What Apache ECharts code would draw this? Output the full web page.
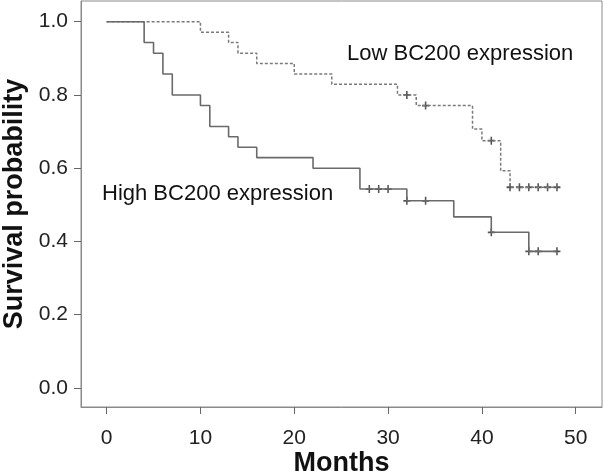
<!DOCTYPE html>
<html>
<head>
<meta charset="utf-8">
<script src="https://cdn.jsdelivr.net/npm/echarts@6/dist/echarts.min.js"></script>
<style>
html,body{margin:0;padding:0;background:#fff;}
#chart{width:604px;height:471px;}
</style>
</head>
<body>
<div id="chart"></div>
<script>
// ---- Data ----
const xTicks = [0, 10, 20, 30, 40, 50];
const yTicks = [0, 0.2, 0.4, 0.6, 0.8, 1.0];

const highTimes = [0, 4, 5, 6, 7, 10, 11, 13, 14, 16, 22, 27, 32, 37, 41, 45, 48];
const highSurv  = [1.0, 0.943, 0.914, 0.857, 0.800, 0.771, 0.714, 0.686, 0.657, 0.629, 0.600, 0.543, 0.511, 0.467, 0.425, 0.373, 0.373];
const highCensor = [28, 29, 30, 32, 34, 41, 45, 46, 48];

const lowTimes = [0, 10, 13, 14, 16, 20, 24, 31, 33, 39, 40, 42, 43, 48];
const lowSurv  = [1.0, 0.971, 0.943, 0.914, 0.886, 0.857, 0.829, 0.800, 0.771, 0.707, 0.675, 0.593, 0.548, 0.548];
const lowCensor = [32, 34, 41, 43, 44, 45, 46, 47, 48];

const highLabel = 'High BC200 expression';
const lowLabel = 'Low BC200 expression';

// ---- helpers ----
function pairs(t, s) { return t.map((v, i) => [v, s[i]]); }
function survAt(t, times, surv) {
  let v = surv[0];
  for (let i = 0; i < times.length; i++) if (times[i] <= t) v = surv[i];
  return v;
}
function censorPts(c, times, surv) { return c.map(t => [t, survAt(t, times, surv)]); }

const FONT = 'Arial, "Liberation Sans", sans-serif';
const plus = 'path://M3.5,0h2v9h-2z M0,3.5h9v2h-9z';

const chart = echarts.init(document.getElementById('chart'), null, {renderer: 'canvas'});
chart.setOption({
  animation: false,
  backgroundColor: '#fff',
  grid: {left: 81, right: 2, top: 1, bottom: 64, show: true, borderColor: '#8a8a8a', borderWidth: 1,
    containLabel: false, outerBoundsMode: 'none'},
  xAxis: {
    type: 'value', min: -2.73, max: 52.8,
    name: 'Months', nameLocation: 'middle', nameGap: 43, nameMoveOverlap: false,
    nameTextStyle: {fontFamily: FONT, fontSize: 27, fontWeight: 'bold', color: '#111'},
    axisLine: {show: true, onZero: false, lineStyle: {color: '#8a8a8a', width: 1}},
    axisTick: {show: true, length: 7, lineStyle: {color: '#666'}, customValues: xTicks},
    axisLabel: {fontFamily: FONT, fontSize: 21, color: '#222', margin: 21, customValues: xTicks,
      formatter: v => String(v)},
    splitLine: {show: false}
  },
  yAxis: {
    type: 'value', min: -0.052, max: 1.0565,
    name: 'Survival probability', nameLocation: 'middle', nameGap: 53, nameMoveOverlap: false,
    nameTextStyle: {fontFamily: FONT, fontSize: 27, fontWeight: 'bold', color: '#111'},
    axisLine: {show: true, onZero: false, lineStyle: {color: '#8a8a8a', width: 1}},
    axisTick: {show: true, length: 7, lineStyle: {color: '#666'}, customValues: yTicks},
    axisLabel: {fontFamily: FONT, fontSize: 21, color: '#222', margin: 13, customValues: yTicks,
      formatter: v => v.toFixed(1)},
    splitLine: {show: false}
  },
  series: [
    {
      name: lowLabel, type: 'line', step: 'end', showSymbol: false,
      data: pairs(lowTimes, lowSurv),
      lineStyle: {color: '#7a7a7a', width: 1.5, type: [3, 2]}
    },
    {
      name: highLabel, type: 'line', step: 'end', showSymbol: false,
      data: pairs(highTimes, highSurv),
      lineStyle: {color: '#6a6a6a', width: 1.6}
    },
    {
      type: 'scatter', symbol: plus, symbolSize: [7, 8],
      data: censorPts(lowCensor, lowTimes, lowSurv),
      itemStyle: {color: '#2a2a2a'}
    },
    {
      type: 'scatter', symbol: plus, symbolSize: [7, 8],
      data: censorPts(highCensor, highTimes, highSurv),
      itemStyle: {color: '#2a2a2a'}
    }
  ],
  graphic: [
    {type: 'text', left: 347, top: 43, style: {text: lowLabel, font: '22px ' + FONT, fill: '#111'}},
    {type: 'text', left: 102, top: 183, style: {text: highLabel, font: '22px ' + FONT, fill: '#111'}}
  ]
});
</script>
</body>
</html>
